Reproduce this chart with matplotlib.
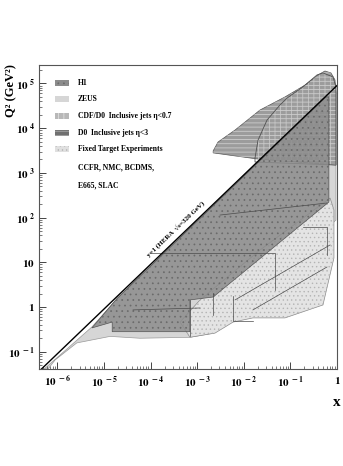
import numpy as np
import matplotlib
matplotlib.use("Agg")
import matplotlib.pyplot as plt
from matplotlib.patches import Polygon, Rectangle
from matplotlib.ticker import LogLocator, FixedLocator, NullFormatter

# ---------------- data (x, Q^2 in GeV^2) ----------------
zeus_x  = [5.2e-7, 5.5e-6, 1.9e-5, 0.82, 0.95, 0.95, 2.2e-3, 7.0e-4, 5.9e-5, 1.35e-5, 2.6e-6, 8.9e-7, 6.3e-7]
zeus_q2 = [0.041, 0.357, 1.51, 7.2e4, 6.5e4, 88, 0.26, 0.21, 0.20, 0.22, 0.157, 0.065, 0.041]

h1_x  = [5.5e-6, 1.9e-5, 0.58, 0.67, 0.67, 2.2e-3, 7.0e-4, 7.0e-4, 1.5e-5, 1.5e-5]
h1_q2 = [0.34, 1.55, 5.0e4, 5.0e4, 223, 1.67, 1.44, 0.28, 0.28, 0.46]

d0_x  = [2.2e-3, 2.8e-3, 6.5e-3, 0.0223, 0.0766, 0.206, 0.391, 0.552, 0.743, 0.906, 0.95, 0.95, 0.0192, 2.2e-3]
d0_q2 = [3.1e3, 4.9e3, 9.1e3, 2.55e4, 5.0e4, 9.2e4, 1.55e5, 1.9e5, 1.72e5, 1.2e5, 6.5e4, 1.5e3, 2.05e3, 2.8e3]

cdf_x  = [0.0174, 0.0202, 0.0315, 0.0598, 0.0845, 0.186, 0.372, 0.50, 0.82, 0.95, 0.95, 0.0174]
cdf_q2 = [2.15e3, 5.4e3, 1.52e4, 3.3e4, 4.7e4, 8.4e4, 1.55e5, 1.72e5, 1.4e5, 8.4e4, 1.5e3, 1.75e3]

ft_x  = [7.0e-4, 2.4e-3, 5.9e-3, 0.0157, 0.0766, 0.50, 0.86, 0.86, 0.71, 0.0223, 1.15e-3, 4.3e-4]
ft_q2 = [0.21, 0.26, 0.46, 0.57, 0.57, 1.11, 12.5, 148, 274, 18.8, 1.44, 0.46]

hera_x  = [4.0e-7, 1.0]
hera_q2 = [0.036, 9.0e4]

# internal boundary lines of individual measurements
inner_lines = [
    ([3.1e-3, 0.61], [114, 212]),
    ([9.7e-5, 0.0468, 0.0468], [16.1, 16.1, 2.4]),
    ([4.2e-5, 1.15e-3], [0.86, 0.95]),
    ([5.9e-3, 5.9e-3, 0.0157], [1.76, 0.49, 0.49]),
    ([7.0e-4, 7.0e-4], [1.43, 0.22]),
    ([2.2e-3, 2.2e-3], [2.06, 0.66]),
    ([0.0157, 0.61], [0.86, 7.85]),
    ([6.5e-3, 0.71], [1.44, 24.4]),
    ([0.186, 0.61, 0.61], [61.6, 61.6, 14.6]),
]

x_ticks = [1e-6, 1e-5, 1e-4, 1e-3, 1e-2, 1e-1, 1]
x_labels = [r"$\mathbf{10^{\ -6}}$", r"$\mathbf{10^{\ -5}}$", r"$\mathbf{10^{\ -4}}$",
            r"$\mathbf{10^{\ -3}}$", r"$\mathbf{10^{\ -2}}$", r"$\mathbf{10^{\ -1}}$", r"$\mathbf{1}$"]
y_ticks = [1e-1, 1, 10, 1e2, 1e3, 1e4, 1e5]
y_labels = [r"$\mathbf{10^{\ -1}}$", r"$\mathbf{1}$", r"$\mathbf{10}$", r"$\mathbf{10^{\ 2}}$",
            r"$\mathbf{10^{\ 3}}$", r"$\mathbf{10^{\ 4}}$", r"$\mathbf{10^{\ 5}}$"]

legend_labels = ["H1", "ZEUS", "CDF/D0  Inclusive jets \u03b7<0.7", "D0  Inclusive jets \u03b7<3",
                 "Fixed Target Experiments"]
legend_extra = ["CCFR, NMC, BCDMS,", "E665, SLAC"]

# ---------------- figure ----------------
plt.rcParams["mathtext.fontset"] = "stix"
plt.rcParams["hatch.linewidth"] = 0.5
serif = ["Liberation Serif", "DejaVu Serif"]

W, H = 343, 466
fig = plt.figure(figsize=(W / 100, H / 100), dpi=100)
ax = fig.add_axes([39 / W, 1 - 369 / H, 298 / W, 304 / H])
ax.set_xscale("log")
ax.set_yscale("log")
ax.set_xlim(4.03e-7, 1.0)
ax.set_ylim(0.041, 2.59e5)

def poly(xs, ys, **kw):
    p = Polygon(np.column_stack([xs, ys]), closed=True, **kw)
    ax.add_patch(p)
    return p

# ZEUS
poly(zeus_x, zeus_q2, facecolor="#d6d6d6", edgecolor="#9a9a9a", lw=0.5, zorder=1)
# Fixed target
poly(ft_x, ft_q2, facecolor="#e4e4e4", edgecolor="#8a8a8a", lw=0.5, zorder=2)
poly(ft_x, ft_q2, facecolor="none", edgecolor="#b4b4b4", hatch="....", lw=0, zorder=2)
# D0 eta<3
poly(d0_x, d0_q2, facecolor="#9c9c9c", edgecolor="#555555", lw=0.5, zorder=3)
poly(d0_x, d0_q2, facecolor="none", edgecolor="#d8d8d8", hatch="----", lw=0, zorder=3)
# CDF/D0 eta<0.7
poly(cdf_x, cdf_q2, facecolor="none", edgecolor="#cfcfcf", hatch="|||", lw=0, zorder=4)
poly(cdf_x, cdf_q2, facecolor="none", edgecolor="#505050", lw=0.6, zorder=4)
# H1
poly(h1_x, h1_q2, facecolor="#8c8c8c", edgecolor="#444444", lw=0.5, alpha=0.85, zorder=5)
poly(h1_x, h1_q2, facecolor="none", edgecolor="#6a6a6a", hatch="...", lw=0, zorder=5)

for xs, ys in inner_lines:
    ax.plot(xs, ys, color="#4a4a4a", lw=0.5, zorder=6)

# HERA kinematic limit
ax.plot(hera_x, hera_q2, color="black", lw=1.0, zorder=7)
ax.text(3.5e-4, 55.6, "y=1 (HERA  \u221as=320 GeV)", rotation=43.8, rotation_mode="anchor",
        ha="center", va="center", fontsize=5, fontweight="bold", family=serif, zorder=8)

# axes styling
for side in ["left", "bottom", "top", "right"]:
    ax.spines[side].set_color("#555555")
    ax.spines[side].set_linewidth(0.8)
ax.xaxis.set_major_locator(FixedLocator(x_ticks))
ax.yaxis.set_major_locator(FixedLocator(y_ticks))
ax.xaxis.set_minor_locator(LogLocator(base=10, subs=np.arange(2, 10), numticks=20))
ax.yaxis.set_minor_locator(LogLocator(base=10, subs=np.arange(2, 10), numticks=20))
ax.xaxis.set_minor_formatter(NullFormatter())
ax.yaxis.set_minor_formatter(NullFormatter())
ax.set_xticklabels(x_labels)
ax.set_yticklabels(y_labels)
ax.tick_params(which="both", direction="in", top=False, right=False, color="#444444")
ax.tick_params(which="major", length=5, width=0.7, labelsize=8, pad=4)
ax.tick_params(axis="y", which="major", pad=3)
ax.tick_params(which="minor", length=2.5, width=0.5)

fig.text(11 / W, 1 - 64 / H, "Q\u00b2 (GeV\u00b2)", rotation=90, ha="center", va="top",
         fontsize=9, fontweight="bold", family=serif)
fig.text(337 / W, 1 - 402 / H, "x", ha="center", va="center",
         fontsize=11, fontweight="bold", family=serif)

# legend
rows = [83, 99, 116, 133, 149]
styles = [
    dict(fc="#8c8c8c", hatch="...", hc="#6a6a6a"),
    dict(fc="#d6d6d6", hatch=None, hc=None),
    dict(fc="#b8b8b8", hatch="|||", hc="#e8e8e8"),
    dict(fc="#707070", hatch="----", hc="#b0b0b0"),
    dict(fc="#e0e0e0", hatch="....", hc="#b4b4b4"),
]
for py, lab, st in zip(rows, legend_labels, styles):
    r = Rectangle((55 / W, 1 - (py + 3) / H), 14 / W, 6 / H, transform=fig.transFigure,
                  facecolor=st["fc"], edgecolor="none", zorder=10)
    fig.add_artist(r)
    if st["hatch"]:
        r2 = Rectangle((55 / W, 1 - (py + 3) / H), 14 / W, 6 / H, transform=fig.transFigure,
                       facecolor="none", edgecolor=st["hc"], hatch=st["hatch"], lw=0, zorder=11)
        fig.add_artist(r2)
    fig.text(78 / W, 1 - py / H, lab, ha="left", va="center", fontsize=5.5,
             fontweight="bold", family=serif)
for py, lab in zip([167, 185], legend_extra):
    fig.text(78 / W, 1 - py / H, lab, ha="left", va="center", fontsize=5.5,
             fontweight="bold", family=serif)

fig.savefig("out.png", dpi=100)
